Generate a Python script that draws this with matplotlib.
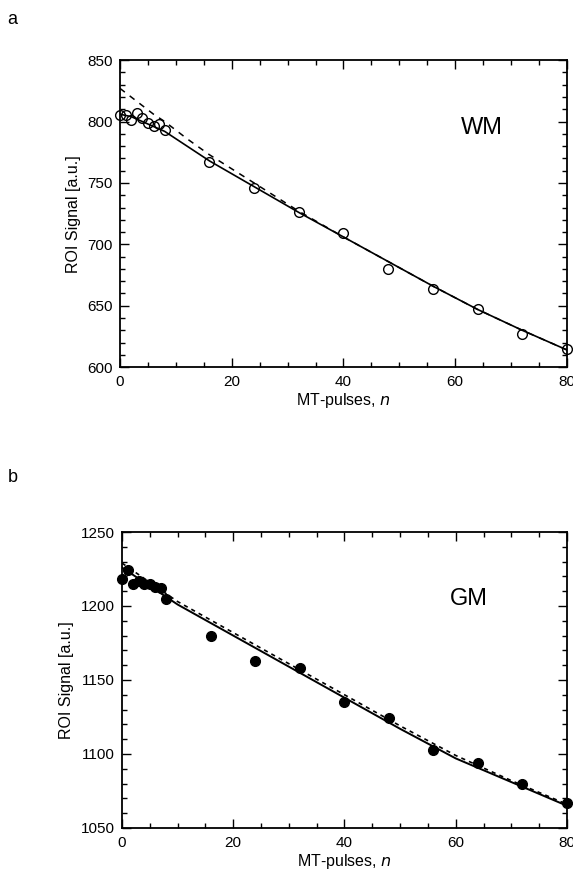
import matplotlib
matplotlib.use("Agg")
from matplotlib import pyplot as plt
from matplotlib.ticker import MultipleLocator

plt.rcParams['font.family'] = ['Liberation Sans', 'DejaVu Sans']

# --------------------- measured ROI signal vs number of MT pulses ---------------------
n_pulses = [0, 1, 2, 3, 4, 5, 6, 7, 8, 16, 24, 32, 40, 48, 56, 64, 72, 80]

wm_signal = [805, 805, 801, 807, 803, 799, 796, 798, 793,
             767, 746, 726, 709, 680, 664, 647, 627, 615]
gm_signal = [1218, 1224, 1215, 1217, 1215, 1215, 1213, 1212, 1205,
             1180, 1163, 1158, 1135, 1124, 1103, 1094, 1080, 1067]

# --------------------- model fits (solid / dashed) ---------------------
fit_n = [0, 2, 4, 6, 8, 12, 16, 24, 32, 40, 48, 56, 64, 72, 80]
wm_fit_solid = [806, 804, 800, 796, 792, 780, 768, 747, 726, 706, 686, 666, 647, 630, 614]
wm_fit_dashed = [827, 820, 813, 806, 800, 786, 773, 750, 727, 706, 686, 666, 647, 630, 614]

gm_fit_n = [0, 10, 20, 30, 40, 50, 60, 70, 80]
gm_fit_solid = [1226, 1201, 1180, 1159, 1138, 1117, 1097, 1081, 1065]
gm_fit_dashed = [1229, 1203, 1182, 1161, 1140, 1119, 1099, 1082, 1066]


def style_axes(ax, ymin, ymax):
    ax.set_xlim(0, 80)
    ax.set_ylim(ymin, ymax)
    ax.xaxis.set_major_locator(MultipleLocator(20))
    ax.xaxis.set_minor_locator(MultipleLocator(5))
    ax.yaxis.set_major_locator(MultipleLocator(50))
    ax.yaxis.set_minor_locator(MultipleLocator(10))
    ax.tick_params(which='both', direction='in', top=True, right=True,
                   labelsize=11, width=1.0)
    ax.tick_params(axis='x', pad=6)
    ax.tick_params(axis='y', pad=5)
    ax.tick_params(which='major', length=6.5)
    ax.tick_params(which='minor', length=3.5)
    for sp in ax.spines.values():
        sp.set_linewidth(1.3)
    ax.set_xlabel('MT-pulses, $\\it{n}$', fontsize=11.5, labelpad=1)
    ax.set_ylabel('ROI Signal [a.u.]', fontsize=11.5, labelpad=5)


fig = plt.figure(figsize=(5.73, 8.72), dpi=100)

# ---------------------- a: white matter ----------------------
ax1 = fig.add_axes([0.2094, 0.579, 0.780, 0.352])
ax1.plot(fit_n, wm_fit_dashed, color='black', lw=1.1, ls=(0, (4, 4)), zorder=2)
ax1.plot(fit_n, wm_fit_solid, color='black', lw=1.2, zorder=3)
ax1.plot(n_pulses, wm_signal, 'o', ms=7, mfc='none', mec='black', mew=1.0,
         clip_on=False, zorder=4)
style_axes(ax1, 600, 850)
ax1.text(0.81, 0.78, 'WM', transform=ax1.transAxes, fontsize=17, ha='center', va='center')
fig.text(0.013, 0.978, 'a', fontsize=13, va='center')

# ---------------------- b: grey matter ----------------------
ax2 = fig.add_axes([0.2129, 0.0505, 0.7766, 0.3394])
ax2.plot(gm_fit_n, gm_fit_dashed, color='black', lw=1.2, ls=(0, (2.5, 2.5)), zorder=2)
ax2.plot(gm_fit_n, gm_fit_solid, color='black', lw=1.4, zorder=3)
ax2.plot(n_pulses, gm_signal, 'o', ms=7, color='black', clip_on=False, zorder=4)
style_axes(ax2, 1050, 1250)
ax2.text(0.78, 0.775, 'GM', transform=ax2.transAxes, fontsize=17, ha='center', va='center')
fig.text(0.013, 0.452, 'b', fontsize=13, va='center')

fig.savefig('out.png', dpi=100)
